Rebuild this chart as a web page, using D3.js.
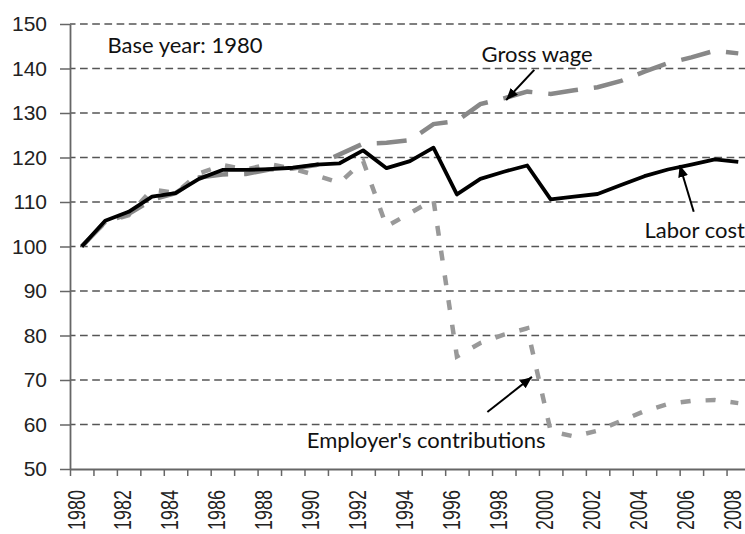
<!DOCTYPE html>
<html><head><meta charset="utf-8">
<script src="https://cdn.jsdelivr.net/npm/d3@7"></script>
<style>body{margin:0;background:#fff}svg{display:block}</style>
</head><body><svg id="c" width="745" height="534"></svg>
<script>
const years = [1980,1981,1982,1983,1984,1985,1986,1987,1988,1989,1990,1991,1992,1993,1994,1995,1996,1997,1998,1999,2000,2001,2002,2003,2004,2005,2006,2007,2008];
const laborCost = [100,105.8,107.8,111.2,112,115.2,117.2,117.2,117.4,117.7,118.4,118.7,121.6,117.6,119.2,122.2,111.7,115.2,116.8,118.2,110.6,111.2,111.8,113.8,115.8,117.3,118.4,119.6,119.0];
const grossWage = [100,105.5,107.3,110.5,112,115.5,116.2,116.3,117.3,117.5,118.3,120.7,123.1,123.3,123.9,127.5,128.2,132,133.3,134.8,134.3,135.1,135.8,137.2,139.3,141.2,142.5,144,143.4];
const employerContrib = [100,105.5,107,112.8,112,116.4,118.3,117.3,118.5,117.5,116,114.3,119.2,104.5,107.5,110.5,75.3,78.3,80.2,81.6,58.5,57.3,58.6,60.8,63,64.6,65.3,65.5,64.8];
const yTicks = [50,60,70,80,90,100,110,120,130,140,150];
const xLabelYears = [1980,1982,1984,1986,1988,1990,1992,1994,1996,1998,2000,2002,2004,2006,2008];
const annotations = [
  {text:"Base year: 1980", year:1981.1, value:143.5},
  {text:"Gross wage", year:1997.05, value:141.5},
  {text:"Labor cost", year:2004.0, value:101.9},
  {text:"Employer's contributions", year:1989.6, value:54.7}
];
const arrows = [
  {from:[1999.3,139.7], to:[1998.1,132.9]},
  {from:[2006.1,107.8], to:[2005.5,118.3]},
  {from:[1997.3,62.8], to:[1999.2,70.7]}
];

const svg = d3.select('#c');
const x = d3.scaleLinear().domain([1979.5, 2008.5]).range([70, 750]);
const y = d3.scaleLinear().domain([50,150]).range([469, 24]);

svg.append('defs').append('marker')
  .attr('id','arr').attr('markerUnits','userSpaceOnUse')
  .attr('markerWidth',14).attr('markerHeight',12)
  .attr('refX',12).attr('refY',5).attr('orient','auto')
  .append('path').attr('d','M0,0 L12,5 L0,10 Z').attr('fill','#000');

// gridlines
svg.append('g').selectAll('line').data(yTicks.filter(v=>v>50)).join('line')
  .attr('x1',70).attr('x2',750).attr('y1',d=>y(d)).attr('y2',d=>y(d))
  .attr('stroke','#555').attr('stroke-width',1.3)
  .attr('stroke-dasharray','7.7,4.5').attr('stroke-dashoffset',2.2);

// y axis
const gy = svg.append('g').attr('transform','translate(70,0)')
  .call(d3.axisLeft(y).tickValues(yTicks).tickSize(10).tickSizeOuter(0).tickPadding(13));
gy.select('.domain').attr('stroke','#666').attr('stroke-width',1.8);
gy.selectAll('.tick line').attr('stroke','#666').attr('stroke-width',1.5);
gy.selectAll('.tick text').attr('font-family','"Liberation Sans", Arial, sans-serif')
  .attr('font-size',21).attr('fill','#222');

// x axis
const bounds = years.map(v=>v-0.5);
const gx = svg.append('g').attr('transform','translate(0,469)')
  .call(d3.axisBottom(x).tickValues(bounds).tickSize(7).tickSizeOuter(0).tickFormat(''));
gx.select('.domain').attr('stroke','#666').attr('stroke-width',1.8);
gx.selectAll('.tick line').attr('stroke','#666').attr('stroke-width',1.5);

svg.append('g').selectAll('text').data(xLabelYears).join('text')
  .attr('transform',d=>`translate(${x(d)-5.5},490) rotate(-90) scale(0.78,1)`)
  .attr('text-anchor','end').attr('dy','0.36em')
  .attr('font-family','"Liberation Sans", Arial, sans-serif')
  .attr('font-size',23).attr('fill','#222')
  .text(d=>d);

// lines
const mk = arr => years.map((yr,i)=>({year:yr, v:arr[i]}));
const line = d3.line().x(d=>x(d.year)).y(d=>y(d.v));
svg.append('path').datum(mk(employerContrib)).attr('d',line)
  .attr('fill','none').attr('stroke','#999').attr('stroke-width',4.5)
  .attr('stroke-dasharray','10,15');
svg.append('path').datum(mk(grossWage)).attr('d',line)
  .attr('fill','none').attr('stroke','#888').attr('stroke-width',4.5)
  .attr('stroke-dasharray','30,16');
svg.append('path').datum(mk(laborCost)).attr('d',line)
  .attr('fill','none').attr('stroke','#000').attr('stroke-width',3.8)
  .attr('stroke-linejoin','round');

// arrows
svg.append('g').selectAll('line').data(arrows).join('line')
  .attr('x1',d=>x(d.from[0])).attr('y1',d=>y(d.from[1]))
  .attr('x2',d=>x(d.to[0])).attr('y2',d=>y(d.to[1]))
  .attr('stroke','#000').attr('stroke-width',2).attr('marker-end','url(#arr)');

// annotations
svg.append('g').selectAll('text').data(annotations).join('text')
  .attr('x',d=>x(d.year)).attr('y',d=>y(d.value))
  .attr('font-family','Lato, "Open Sans", sans-serif').attr('font-size',22)
  .attr('fill','#111').text(d=>d.text);
</script></body></html>
